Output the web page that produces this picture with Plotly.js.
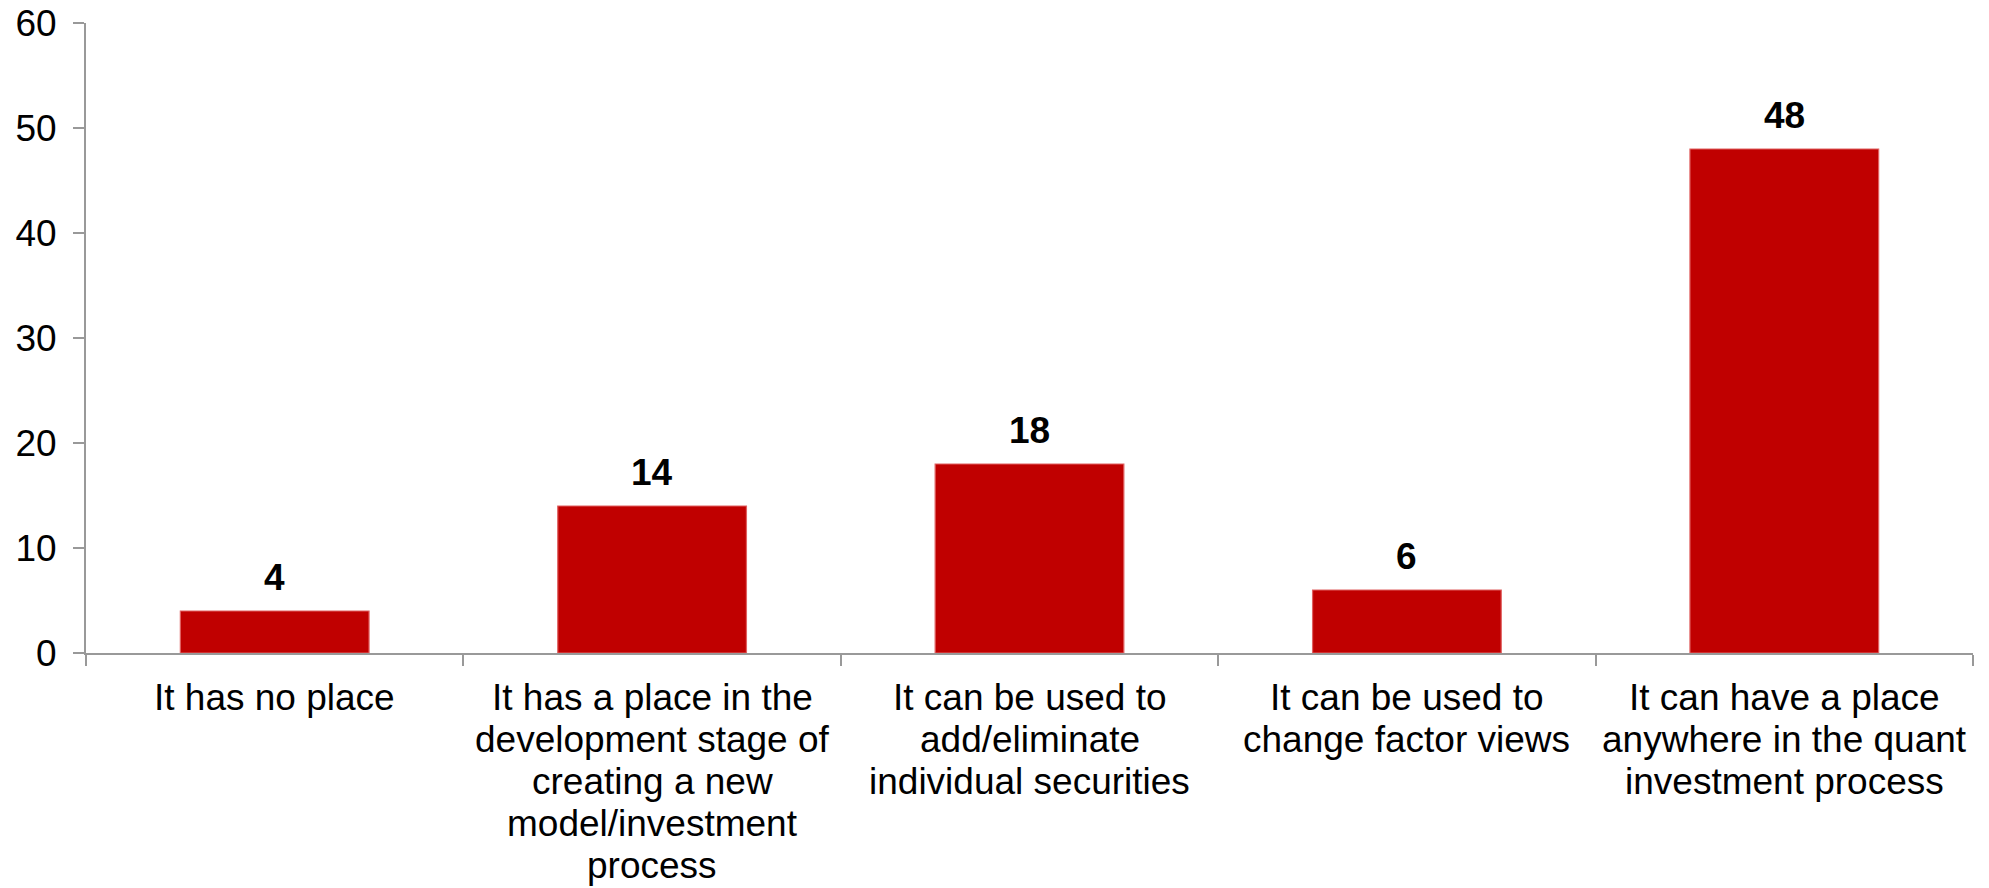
<!DOCTYPE html>
<html>
<head>
<meta charset="utf-8">
<script src="https://cdn.plot.ly/plotly-3.0.1.min.js"></script>
<style>html,body{margin:0;padding:0;background:#fff;}#chart{width:1989px;height:888px;}</style>
</head>
<body>
<div id="chart"></div>
<script>
const categories = ["c1", "c2", "c3", "c4", "c5"];
const categoryLabels = [
  ["It has no place"],
  ["It has a place in the", "development stage of", "creating a new", "model/investment", "process"],
  ["It can be used to", "add/eliminate", "individual securities"],
  ["It can be used to", "change factor views"],
  ["It can have a place", "anywhere in the quant", "investment process"]
];
const values = [4, 14, 18, 6, 48];
const yTicks = [0, 10, 20, 30, 40, 50, 60];

const font = "Liberation Sans, Arial, sans-serif";
const FS = 37;

const annotations = [];
categories.forEach((c, i) => {
  annotations.push({
    x: c, y: values[i], xref: 'x', yref: 'y',
    text: '<b>' + values[i] + '</b>',
    showarrow: false, yanchor: 'bottom', yshift: 11,
    font: {family: font, size: FS, color: '#000'}
  });
  categoryLabels[i].forEach((line, j) => {
    annotations.push({
      x: c, y: 0, xref: 'x', yref: 'paper',
      text: line, showarrow: false,
      yanchor: 'middle', yshift: -(44 + j * 42),
      font: {family: font, size: FS, color: '#000'}
    });
  });
});

Plotly.newPlot('chart', [{
  type: 'bar',
  x: categories,
  y: values,
  marker: {color: '#C00000', line: {color: '#E06060', width: 1.2}},
  hoverinfo: 'none'
}], {
  width: 1989, height: 888,
  margin: {l: 86, r: 16, t: 23, b: 235},
  paper_bgcolor: '#fff', plot_bgcolor: '#fff',
  bargap: 0.5,
  showlegend: false,
  font: {family: font, size: FS, color: '#000'},
  xaxis: {
    type: 'category',
    showline: true, linecolor: '#999', linewidth: 2,
    ticks: 'outside', tickson: 'boundaries', ticklen: 11, tickcolor: '#999', tickwidth: 2,
    showgrid: false, zeroline: false,
    showticklabels: false
  },
  yaxis: {
    range: [0, 60], tickvals: yTicks, ticktext: yTicks.map(String),
    showline: true, linecolor: '#999', linewidth: 2,
    ticks: 'outside', ticklen: 11, tickcolor: '#999', tickwidth: 2,
    showgrid: false, zeroline: false,
    tickfont: {family: font, size: FS, color: '#000'},
    ticklabelstandoff: 9
  },
  annotations: annotations
}, {displayModeBar: false, staticPlot: true});
</script>
</body>
</html>
